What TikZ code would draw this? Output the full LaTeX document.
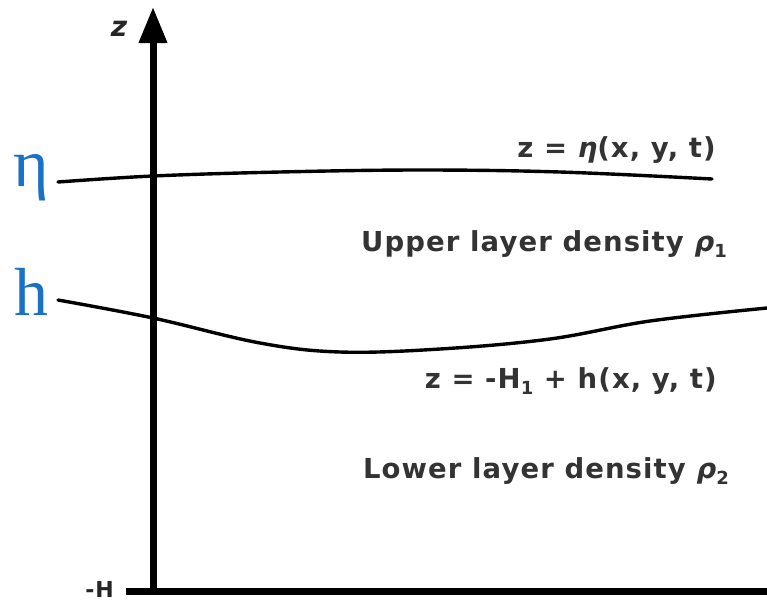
\documentclass[tikz,border=0pt]{standalone}
\usepackage{fontspec}
\setmainfont{Liberation Serif}
\newfontfamily\labfont{DejaVu Sans}[LetterSpace=4]
\usetikzlibrary{arrows.meta}
\definecolor{blueLbl}{HTML}{1A72C4}
\tikzset{
  axisline/.style={line width=7pt},
  iface/.style={line width=3.4pt, line cap=round},
  lbl/.style={font=\labfont\bfseries\fontsize{27.5}{30}\selectfont, inner sep=0pt, anchor=east, text=black!80},
  bluelbl/.style={font=\fontsize{68}{70}\selectfont, text=blueLbl, inner sep=0pt},
}
\newcommand{\subx}[1]{\raisebox{-0.4ex}{\fontsize{18}{18}\selectfont #1}}
\begin{document}
\begin{tikzpicture}[x=1pt,y=-1pt]
\useasboundingbox (0,0) rectangle (767,603);
% axes
\coordinate (top) at (153,7);
\coordinate (orig) at (153,594);
\coordinate (bl) at (126,591);
\coordinate (br) at (767,591);
\draw[axisline, -{Triangle[width=27pt,length=36pt]}] (orig) -- (top);
\draw[axisline] (bl) -- (br);
\node[font=\labfont\bfseries\itshape\fontsize{28}{30}\selectfont, inner sep=0pt, text=black!85] (zlab) at (119,29) {z};
\node[font=\labfont\bfseries\fontsize{22}{24}\selectfont, inner sep=0pt, anchor=east, text=black!85] (Hlab) at (114,589) {-H};
% interfaces
\draw[iface] plot[smooth, tension=0.6] coordinates {(58,182) (153,176) (280,172) (420,170) (560,172) (712,179)};
\draw[iface] plot[smooth, tension=0.6] coordinates {(58,300) (153,318) (260,343) (340,352) (440,349) (550,339) (650,321) (767,308)};
% blue labels
\node[bluelbl] (eta) at (31,178) {η};
\node[bluelbl] (h) at (31,292) {h};
% text labels
\node[lbl] (l1) at (716,150) {z = {\itshape η}(x, y, t)};
\node[lbl] (l2) at (727,244) {Upper layer density {\itshape ρ}\subx{1}};
\node[lbl] (l3) at (717,381) {z = -H\subx{1} + h(x, y, t)};
\node[lbl] (l4) at (729,471) {Lower layer density {\itshape ρ}\subx{2}};
\end{tikzpicture}
\end{document}
